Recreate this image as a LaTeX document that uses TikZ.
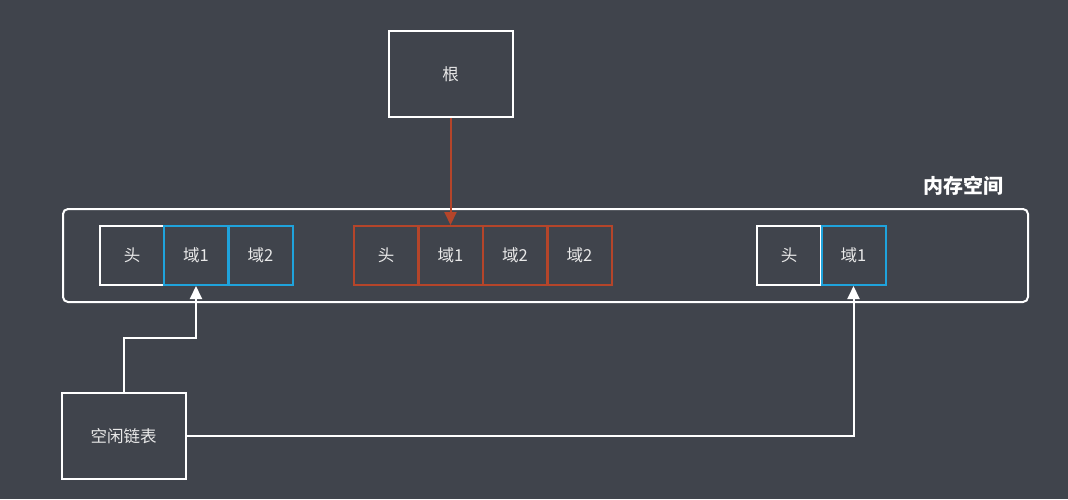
\documentclass[tikz,border=0pt]{standalone}
\usepackage{fontspec}
\newfontfamily\cjk{Noto Sans CJK SC}
\usetikzlibrary{arrows.meta}
\definecolor{bg}{HTML}{40444C}
\definecolor{fblue}{HTML}{1FA3DC}
\definecolor{fred}{HTML}{B5452A}
\definecolor{txt}{HTML}{E8E8E8}
\begin{document}
\begin{tikzpicture}[x=1pt,y=-1pt,
  cell/.style={draw, line width=2pt, minimum width=64pt, minimum height=59pt, inner sep=0pt, anchor=north west, text=txt, font=\cjk\fontsize{16.5}{19}\selectfont},
  headcell/.style={cell, draw=white},
  bluecell/.style={cell, draw=fblue},
  redcell/.style={cell, draw=fred},
  bigbox/.style={draw=white, line width=2pt, minimum width=124pt, minimum height=86pt, inner sep=0pt, text=txt, font=\cjk\fontsize{16.5}{19}\selectfont},
  wline/.style={draw=white, line width=2pt},
  tip/.style={-{Triangle[length=13pt,width=12pt]}}
]
\fill[bg] (0,0) rectangle (1068,499);
\useasboundingbox (0,0) rectangle (1068,499);
% memory space
\node[draw=white, line width=2pt, rounded corners=5pt, minimum width=965pt, minimum height=93pt, inner sep=0pt, anchor=north west] (mem) at (62,208) {};
\node[text=white, font=\cjk\bfseries\fontsize{20}{22}\selectfont] (memlabel) at (963.5,186) {内存空间};
% root
\node[bigbox] (root) at (450.5,74) {根};
% free list
\node[bigbox] (free) at (123.5,436) {空闲链表};
% left group
\node[headcell] (h1) at (99,225) {头};
\node[bluecell] (a1) at (163,225) {域1};
\node[bluecell] (a2) at (227.5,225) {域2};
% middle group
\node[redcell] (h2) at (353,225) {头};
\node[redcell] (b1) at (417.5,225) {域1};
\node[redcell] (b2) at (482,225) {域2};
\node[redcell] (b3) at (546.5,225) {域2};
% right group
\node[headcell] (h3) at (756,225) {头};
\node[bluecell] (c1) at (820.5,225) {域1};
% arrows
\draw[fred, line width=2pt, tip] (root.south) -- (root.south |- b1.north);
\coordinate (k1) at (123.5,338);
\coordinate (k2) at (a1.south |- k1);
\draw[wline, tip] (free.north) -- (k1) -- (k2) -- (a1.south);
\coordinate (k3) at (c1.south |- free.east);
\draw[wline, tip] (free.east) -- (k3) -- (c1.south);
\end{tikzpicture}
\end{document}
